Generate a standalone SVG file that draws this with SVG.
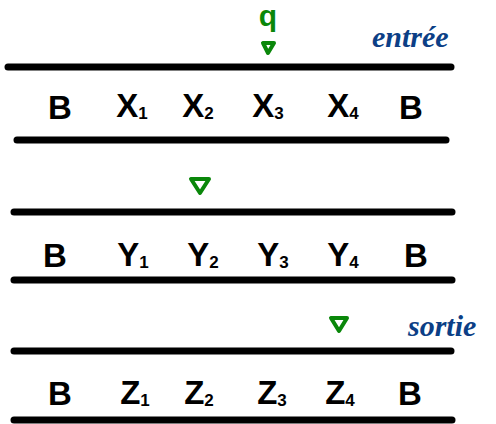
<svg xmlns="http://www.w3.org/2000/svg" width="496" height="424" viewBox="0 0 496 424">
<style>
.tape{stroke:#000;stroke-width:7;stroke-linecap:round;fill:none}
.sym{font-family:"Liberation Sans",sans-serif;font-size:33px;font-weight:bold;fill:#000;text-anchor:middle}
.sub{font-size:17px}
.head{fill:none;stroke:#0a870a;stroke-width:4;stroke-linejoin:round}
.lbl{font-family:"Liberation Serif",serif;font-style:italic;font-weight:bold;font-size:30px;fill:#0c3f86}
</style>
<rect width="496" height="424" fill="#fff"/>
<g id="tape-entree">
<line class="tape" x1="8" y1="67" x2="451" y2="67"/>
<line class="tape" x1="17" y1="140" x2="446" y2="140"/>
<text class="sym" x="60" y="119">B</text>
<text class="sym" x="132" y="117">X<tspan class="sub" dy="2">1</tspan></text>
<text class="sym" x="198" y="117">X<tspan class="sub" dy="2">2</tspan></text>
<text class="sym" x="268" y="117">X<tspan class="sub" dy="2">3</tspan></text>
<text class="sym" x="343" y="117">X<tspan class="sub" dy="2">4</tspan></text>
<text class="sym" x="411" y="119">B</text>
</g>
<g id="head-1">
<text x="268" y="26" font-family="Liberation Sans,sans-serif" font-size="30" font-weight="bold" fill="#0a870a" text-anchor="middle">q</text>
<polygon class="head" points="263,43 274,43 268,53"/>
</g>
<text id="label-entree" class="lbl" x="372" y="47">entrée</text>
<g id="tape-2">
<line class="tape" x1="14" y1="212" x2="452" y2="212"/>
<line class="tape" x1="14" y1="280" x2="452" y2="280"/>
<text class="sym" x="55" y="267">B</text>
<text class="sym" x="133" y="266">Y<tspan class="sub" dy="2">1</tspan></text>
<text class="sym" x="203" y="266">Y<tspan class="sub" dy="2">2</tspan></text>
<text class="sym" x="273" y="266">Y<tspan class="sub" dy="2">3</tspan></text>
<text class="sym" x="343" y="266">Y<tspan class="sub" dy="2">4</tspan></text>
<text class="sym" x="416" y="267">B</text>
</g>
<g id="head-2">
<polygon class="head" points="191,179 209,179 200,193"/>
</g>
<g id="tape-sortie">
<line class="tape" x1="14" y1="351" x2="451" y2="351"/>
<line class="tape" x1="14" y1="420" x2="452" y2="420"/>
<text class="sym" x="60" y="405">B</text>
<text class="sym" x="135" y="404">Z<tspan class="sub" dy="2">1</tspan></text>
<text class="sym" x="199" y="404">Z<tspan class="sub" dy="2">2</tspan></text>
<text class="sym" x="272" y="404">Z<tspan class="sub" dy="2">3</tspan></text>
<text class="sym" x="340" y="404">Z<tspan class="sub" dy="2">4</tspan></text>
<text class="sym" x="410" y="405">B</text>
</g>
<g id="head-3">
<polygon class="head" points="331,318 347,318 339,331"/>
</g>
<text id="label-sortie" class="lbl" x="408" y="336">sortie</text>
</svg>
